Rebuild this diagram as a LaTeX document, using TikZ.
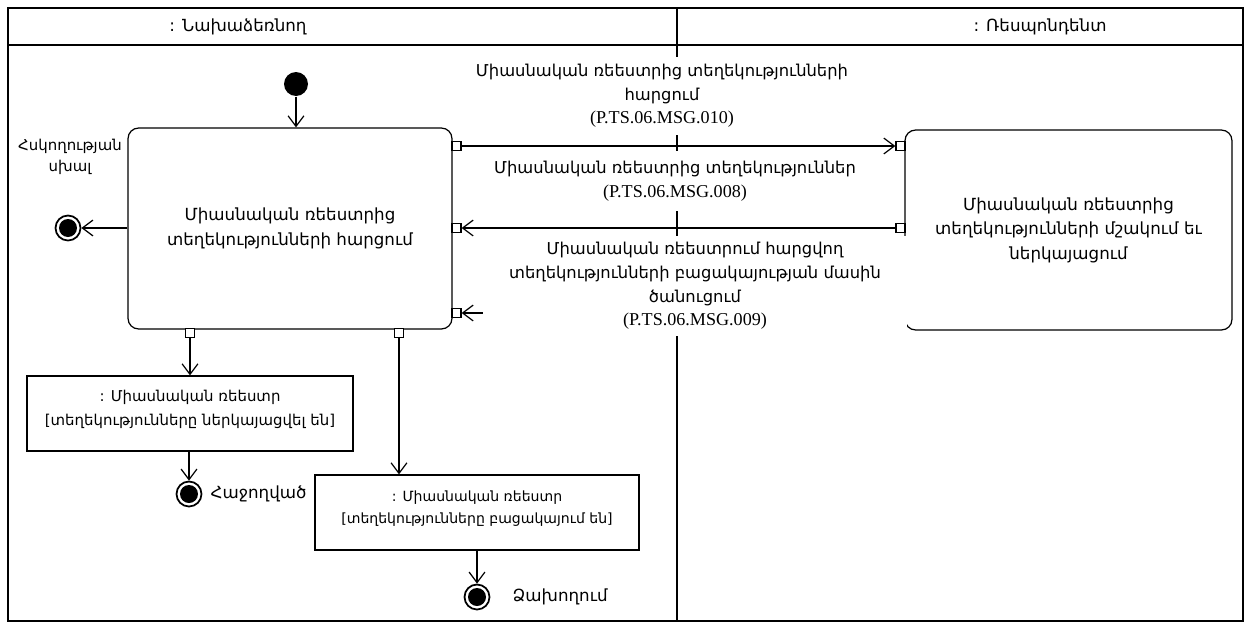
\documentclass[tikz,border=0pt]{standalone}
\usepackage{fontspec}
\setmainfont{DejaVu Sans}
\newfontfamily\codefont{Liberation Serif}
\usetikzlibrary{arrows.meta,positioning}

\begin{document}
\begin{tikzpicture}[x=0.02cm, y=-0.02cm, line width=0.7pt,
    >={Straight Barb[length=6pt,width=9pt]},
    actbox/.style={draw, rounded corners=6pt, align=center, font=\fontsize{9.5}{14}\selectfont},
    objbox/.style={draw, align=center, font=\fontsize{8.5}{13.5}\selectfont},
    portbox/.style={draw, fill=white, minimum size=0.18cm, inner sep=0pt},
    initnode/.style={circle, fill=black, minimum size=0.48cm, inner sep=0pt},
    finalnode/.style={circle, draw, line width=1pt, fill=white, minimum size=0.5cm, inner sep=0pt,
      path picture={\fill[black] (path picture bounding box.center) circle (0.18cm);}},
    msglabel/.style={fill=white, align=center, inner sep=2pt, font=\fontsize{9.3}{13.4}\selectfont},
    smalllabel/.style={align=center, font=\fontsize{8.5}{12}\selectfont}]
  \useasboundingbox (0,0) rectangle (1251,626);

  % Ուղիներ
  \draw (8,8) rectangle (1243,621);
  \draw (8,45) -- (1243,45);
  \draw (677,8) -- (677,621);
  \node[smalllabel, font=\fontsize{9.5}{12}\selectfont] (laneinit) at (238,27) {: Նախաձեռնող};
  \node[smalllabel, font=\fontsize{9.5}{12}\selectfont] (laneresp) at (1040,27) {: Ռեսպոնդենտ};

  % Գործողություններ
  \node[actbox, minimum width=6.48cm, minimum height=4.02cm] (reqbox) at (290,228.5)
    {Միասնական ռեեստրից\\տեղեկությունների հարցում};
  \node[actbox, minimum width=6.54cm, minimum height=4cm] (procbox) at (1068.5,230)
    {Միասնական ռեեստրից\\տեղեկությունների մշակում եւ\\ներկայացում};

  % Պորտեր
  \node[portbox] (p1) at (456.5,146) {};
  \node[portbox] (p2) at (456.5,228) {};
  \node[portbox] (p3) at (456.5,313) {};
  \node[portbox] (q1) at (900.5,146) {};
  \node[portbox] (q2) at (900.5,228) {};
  \node[portbox] (q3) at (900.5,313) {};
  \node[portbox] (pb1) at (190,333) {};
  \node[portbox] (pb2) at (399,333) {};

  % Սկիզբ և ավարտներ
  \node[initnode] (start) at (296,84) {};
  \draw[->] (start) -- (start |- reqbox.north);
  \node[finalnode] (ferr) at (68,228) {};
  \draw[->] (reqbox.west |- ferr) -- (ferr);
  \node[smalllabel] (errlabel) at (70,157) {Հսկողության\\սխալ};

  % Օբյեկտներ
  \node[objbox, minimum width=6.52cm, minimum height=1.5cm] (objok) at (190,413.5)
    {: Միասնական ռեեստր\\{[}տեղեկությունները ներկայացվել են{]}\\[-7pt]~};
  \node[objbox, minimum width=6.48cm, minimum height=1.5cm,
    font=\fontsize{8}{12.5}\selectfont] (objnone) at (477,512.5)
    {: Միասնական ռեեստր\\{[}տեղեկությունները բացակայում են{]}\\[-6pt]~};
  \draw[->] (pb1) -- (pb1 |- objok.north);
  \draw[->] (pb2) -- (pb2 |- objnone.north);

  \node[finalnode] (fok) at (189,494) {};
  \draw[->] (objok.south -| fok) -- (fok);
  \node[smalllabel, font=\fontsize{9.5}{12}\selectfont, right=1pt of fok] (oklabel) {Հաջողված};
  \node[finalnode] (ffail) at (477,597) {};
  \draw[->] (objnone.south -| ffail) -- (ffail);
  \node[smalllabel, font=\fontsize{9.5}{12}\selectfont, right=9pt of ffail] (faillabel) {Ձախողում};

  % Հաղորդագրություններ
  \draw[->] (p1) -- (q1);
  \draw[->] (q2) -- (p2);
  \draw[->] (q3) -- (p3);
  \node[msglabel, minimum height=1.55cm] (msg1) at (662,96)
    {Միասնական ռեեստրից տեղեկությունների\\հարցում\\{\codefont\fontsize{10.3}{13.4}\selectfont(P.TS.06.MSG.010)}};
  \node[msglabel, minimum height=1.2cm] (msg2) at (675,181)
    {Միասնական ռեեստրից տեղեկություններ\\{\codefont\fontsize{10.3}{13.4}\selectfont(P.TS.06.MSG.008)}};
  \node[msglabel, minimum width=8.5cm, minimum height=2cm] (msg3) at (695,286)
    {Միասնական ռեեստրում հարցվող\\տեղեկությունների բացակայության մասին\\ծանուցում\\{\codefont\fontsize{10.3}{13.4}\selectfont(P.TS.06.MSG.009)}};
\end{tikzpicture}
\end{document}
